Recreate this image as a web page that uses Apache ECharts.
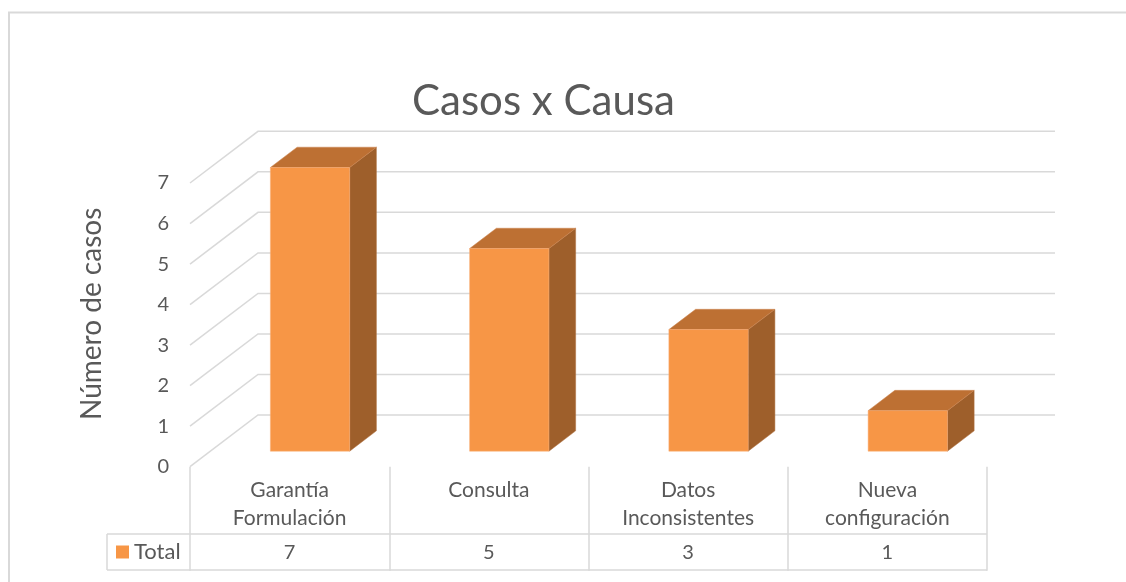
<!DOCTYPE html>
<html>
<head>
<meta charset="utf-8">
<script src="https://cdn.jsdelivr.net/npm/echarts@6/dist/echarts.min.js"></script>
<style>
html,body{margin:0;padding:0;background:#fff;}
#chart{width:1126px;height:582px;}
</style>
</head>
<body>
<div id="chart"></div>
<script>
// ---- data ----
var categories = ['Garantía\nFormulación', 'Consulta', 'Datos\nInconsistentes', 'Nueva\nconfiguración'];
var seriesName = 'Total';
var values = [7, 5, 3, 1];
var yTicks = [0, 1, 2, 3, 4, 5, 6, 7];

// ---- style / geometry ----
var TXT = '#595959';
var GRID_C = '#D9D9D9';
var FRONT = '#F79646', TOP = '#BD7033', SIDE = '#9E5F2B';
var FONT = 'Lato';
var DX = 68, DY = -51.7;          // wall depth offset
var BAR_F = 0.30, BAR_D = 0.393;  // bar front position / depth (fraction of wall depth)
var BAR_W = 0.398;                // bar width as fraction of band

var chart = echarts.init(document.getElementById('chart'));

function wallItem(params, api) {
  var cs = params.coordSys;
  var y = api.coord([0, api.value(1)])[1];
  var x0 = cs.x, x1 = cs.x + cs.width;
  return {
    type: 'polyline',
    shape: { points: [[x0, y], [x0 + DX, y + DY], [x1 + DX, y + DY]] },
    style: { stroke: GRID_C, lineWidth: 1.5, fill: null }
  };
}

function barItem(params, api) {
  var cs = params.coordSys;
  var idx = api.value(0), v = api.value(1);
  var base = api.coord([idx, 0]);
  var top = api.coord([idx, v]);
  var band = api.size([1, 0])[0];
  var w = band * BAR_W;
  var fx = base[0] + DX * BAR_F - w / 2;
  var fyB = base[1] + DY * BAR_F;
  var fyT = top[1] + DY * BAR_F;
  var ddx = DX * BAR_D, ddy = DY * BAR_D;
  return {
    type: 'group',
    children: [
      { type: 'polygon',
        shape: { points: [[fx + w, fyT], [fx + w, fyB], [fx + w + ddx, fyB + ddy], [fx + w + ddx, fyT + ddy]] },
        style: { fill: SIDE, stroke: '#B07040', lineWidth: 0.5 } },
      { type: 'polygon',
        shape: { points: [[fx, fyT], [fx + w, fyT], [fx + w + ddx, fyT + ddy], [fx + ddx, fyT + ddy]] },
        style: { fill: TOP, stroke: '#CC8550', lineWidth: 0.5 } },
      { type: 'rect',
        shape: { x: fx, y: fyT, width: w, height: fyB - fyT },
        style: { fill: FRONT, stroke: '#F9AE78', lineWidth: 0.5 } },
      { type: 'text',
        x: base[0], y: cs.y + cs.height + 86,
        style: { text: String(v), fill: TXT, font: '20px ' + FONT, align: 'center', verticalAlign: 'middle' } }
    ]
  };
}

var option = {
  animation: false,
  backgroundColor: '#fff',
  title: {
    text: 'Casos x Causa',
    left: 407, top: 75,
    textStyle: { color: TXT, fontFamily: FONT, fontSize: 42, fontWeight: 'normal' }
  },
  legend: {
    data: [seriesName],
    left: 116, top: 541,
    icon: 'rect', itemWidth: 13, itemHeight: 13, itemGap: 5, padding: 0,
    textStyle: { color: TXT, fontFamily: FONT, fontSize: 22 }
  },
  grid: { left: 190, right: 139, top: 183, bottom: 115.3 },
  xAxis: {
    type: 'category',
    data: categories,
    boundaryGap: true,
    axisLine: { show: false },
    axisTick: { show: true, length: 104, lineStyle: { color: GRID_C, width: 1.5 } },
    axisLabel: { color: TXT, fontFamily: FONT, fontSize: 21, lineHeight: 28, margin: 10, verticalAlign: 'top', interval: 0 },
    splitLine: { show: false }
  },
  yAxis: {
    type: 'value',
    min: 0, max: 7, interval: 1,
    name: 'Número de casos',
    nameLocation: 'middle', nameRotate: 90, nameGap: 84,
    nameTextStyle: { color: TXT, fontFamily: FONT, fontSize: 28, padding: [0, 0, 0, 22] },
    axisLine: { show: false },
    axisTick: { show: false },
    axisLabel: { color: TXT, fontFamily: FONT, fontSize: 20, margin: 21 },
    splitLine: { show: false }
  },
  graphic: [
    { type: 'rect', shape: { x: 9, y: 12.5, width: 1200, height: 700 }, style: { fill: null, stroke: GRID_C, lineWidth: 2 }, silent: true },
    { type: 'line', shape: { x1: 107, y1: 534, x2: 987, y2: 534 }, style: { stroke: GRID_C, lineWidth: 1.5 } },
    { type: 'line', shape: { x1: 107, y1: 570, x2: 987, y2: 570 }, style: { stroke: GRID_C, lineWidth: 1.5 } },
    { type: 'line', shape: { x1: 107, y1: 534, x2: 107, y2: 570 }, style: { stroke: GRID_C, lineWidth: 1.5 } }
  ],
  series: [
    {
      type: 'custom', name: 'walls', z: 1, clip: false, silent: true,
      renderItem: wallItem,
      data: yTicks.map(function (t) { return [0, t]; })
    },
    {
      type: 'custom', name: seriesName, z: 2, clip: false,
      itemStyle: { color: FRONT },
      renderItem: barItem,
      data: values.map(function (v, i) { return [i, v]; })
    }
  ]
};
chart.setOption(option);
</script>
</body>
</html>
